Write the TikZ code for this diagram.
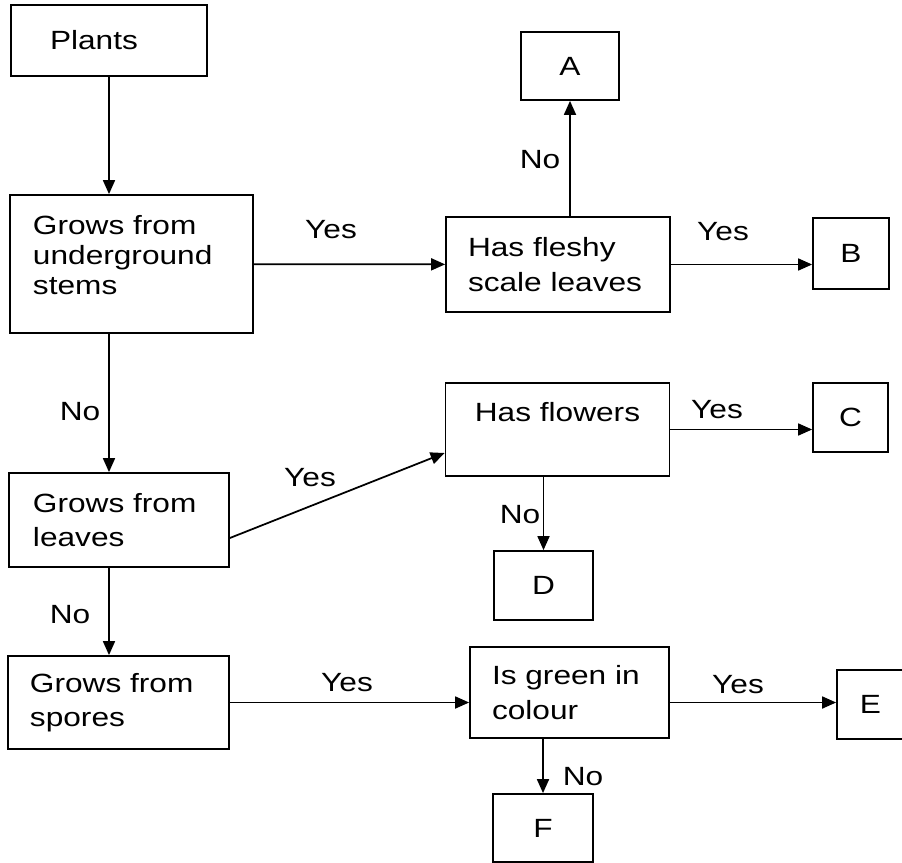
\documentclass[tikz,border=0pt]{standalone}
\usepackage{fontspec}
\setmainfont{Liberation Sans}[FakeStretch=1.2]
\usetikzlibrary{arrows.meta}
\begin{document}
\begin{tikzpicture}
      [x=0.2mm,y=-0.2mm,line width=1pt,
       every node/.style={font=\fontsize{15}{19.5}\selectfont},
       box/.style={draw,align=left,inner ysep=0pt,inner xsep=4.4mm},
       letter/.style={draw,inner sep=0pt},
       txt/.style={inner sep=0pt},
       >={Triangle[length=2.8mm,width=2.4mm]}]
      \clip (0,0) rectangle (902,863);
      % questions
      \node[box,text width=23.6mm,inner xsep=7.8mm,minimum height=14.2mm] (plants) at (109,40.5) {Plants};
      \node[box,text width=39.4mm,inner xsep=4.6mm,minimum height=27.6mm,text depth=15.5mm,
            font=\fontsize{15}{17}\selectfont] (stems) at (131.5,264) {Grows from\\underground\\stems};
      \node[box,text width=36mm,minimum height=19mm] (fleshy) at (558,264.5) {Has fleshy\\scale leaves};
      \node[box,align=center,text width=36mm,minimum height=18.6mm] (flowers) at (557.5,429.5) {Has flowers\\\mbox{}};
      \node[box,text width=34.4mm,inner xsep=4.8mm,minimum height=18.8mm] (leaves) at (119,520) {Grows from\\leaves};
      \node[box,text width=35.4mm,minimum height=18.6mm] (spores) at (118.5,702.5) {Grows from\\spores};
      \node[box,text width=31mm,minimum height=18.2mm] (green) at (569.5,692.5) {Is green in\\colour};
      % answers
      \node[letter,minimum width=19.6mm,minimum height=13.6mm] (A) at (570,66) {A};
      \node[letter,minimum width=15.2mm,minimum height=14.2mm] (B) at (851,253.5) {B};
      \node[letter,minimum width=15mm,minimum height=13.8mm] (C) at (850.5,417.5) {C};
      \node[letter,minimum width=19.8mm,minimum height=13.8mm] (D) at (543.5,585.5) {D};
      \node[letter,minimum width=13.4mm,minimum height=13.8mm] (E) at (870.5,704.5) {E};
      \node[letter,minimum width=20mm,minimum height=13.6mm] (F) at (543,828) {F};
      % arrows
      \draw[->] (plants) -- (stems.north -| plants);
      \draw[->] (stems) -- (fleshy);
      \draw[->] (fleshy.north -| A) -- (A.south);
      \draw[->] (fleshy.east) -- (fleshy.east -| B.west);
      \draw[->] (stems.south -| plants) -- (leaves.north -| plants);
      \draw[->] ([yshift=-3.6mm]leaves.east) -- ([yshift=-4.7mm]flowers.west);
      \draw[->] (flowers.east) -- (flowers.east -| C.west);
      \draw[->] (flowers.south -| D) -- (D.north);
      \draw[->] (leaves.south -| plants) -- (spores.north -| plants);
      \draw[->] (spores.east) -- (spores.east -| green.west);
      \draw[->] (green.east |- spores.east) -- (E.west |- spores.east);
      \draw[->] (green.south -| F) -- (F.north);
      % labels
      \node[txt] (yesfleshy) at (331,230) {Yes};
      \node[txt] (noA) at (540,160) {No};
      \node[txt] (yesB) at (723,232) {Yes};
      \node[txt] (noleaves) at (80,412) {No};
      \node[txt] (yesflowers) at (310,478) {Yes};
      \node[txt] (yesC) at (717,410) {Yes};
      \node[txt] (noD) at (520,515) {No};
      \node[txt] (nospores) at (70,615) {No};
      \node[txt] (yesgreen) at (347,683) {Yes};
      \node[txt] (yesE) at (738,685) {Yes};
      \node[txt] (noF) at (583,777) {No};
\end{tikzpicture}
\end{document}
